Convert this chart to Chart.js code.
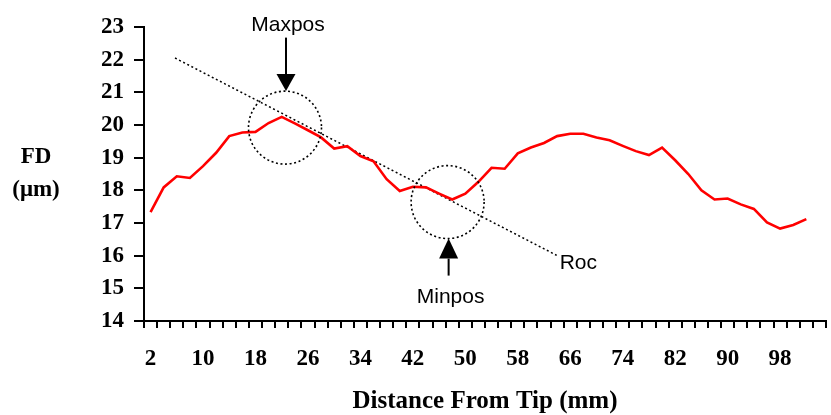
<!DOCTYPE html>
<html lang="en">
<head>
<meta charset="UTF-8">
<title>FD vs Distance From Tip</title>
<script src="https://cdn.jsdelivr.net/npm/chart.js"></script>
<style>
    html, body { margin: 0; padding: 0; background: #fff; }
    .chart-box { width: 831px; height: 415px; }
</style>
</head>
<body>
<div class="chart-box"><canvas id="fdChart" width="831" height="415"></canvas></div>

<script>
// distance from tip (mm) and fibre diameter FD (um)
const distances = [2, 4, 6, 8, 10, 12, 14, 16, 18, 20, 22, 24, 26, 28, 30, 32, 34, 36, 38, 40,
                   42, 44, 46, 48, 50, 52, 54, 56, 58, 60, 62, 64, 66, 68, 70, 72, 74, 76, 78, 80,
                   82, 84, 86, 88, 90, 92, 94, 96, 98, 100, 102];
const fdValues = [17.33, 18.09, 18.43, 18.38, 18.74, 19.15, 19.66, 19.77, 19.79, 20.06,
                  20.25, 20.05, 19.84, 19.62, 19.28, 19.35, 19.05, 18.89, 18.34, 17.98,
                  18.11, 18.09, 17.90, 17.72, 17.90, 18.26, 18.69, 18.66, 19.13, 19.31,
                  19.45, 19.66, 19.73, 19.73, 19.62, 19.53, 19.36, 19.20, 19.08, 19.31,
                  18.92, 18.50, 18.00, 17.72, 17.75, 17.57, 17.43, 17.02, 16.83, 16.94,
                  17.12];
const tickLabels = [2, 10, 18, 26, 34, 42, 50, 58, 66, 74, 82, 90, 98];
const categoryEdges = [1, 3, 5, 7, 9, 11, 13, 15, 17, 19, 21, 23, 25, 27, 29, 31, 33, 35, 37, 39,
                       41, 43, 45, 47, 49, 51, 53, 55, 57, 59, 61, 63, 65, 67, 69, 71, 73, 75, 77, 79,
                       81, 83, 85, 87, 89, 91, 93, 95, 97, 99, 101, 103, 105];

// dotted "Roc" trend line (start / end)
const rocX = [5.73, 63.93];
const rocY = [22.05, 16.01];

// circled points with arrows
const markerNames = ['Maxpos', 'Minpos'];
const markerX = [22.5, 47.3];
const markerY = [19.92, 17.64];

const serif = '"Liberation Serif", "Times New Roman", serif';
const sans = '"Liberation Sans", Arial, sans-serif';

// circles, arrows, labels and the left-hand FD (um) title
const annotations = {
    id: 'annotations',
    afterDatasetsDraw(chart) {
        const { ctx, chartArea, scales: { x, y } } = chart;
        ctx.save();
        ctx.strokeStyle = '#000';
        ctx.fillStyle = '#000';
        ctx.font = '21px ' + sans;
        ctx.textAlign = 'center';
        ctx.textBaseline = 'middle';

        markerNames.forEach((name, i) => {
            const cx = x.getPixelForValue(markerX[i]);
            const cy = y.getPixelForValue(markerY[i]);
            const r = 36.5;
            const dir = i === 0 ? -1 : 1;          // Maxpos arrow comes from above
            const tip = cy + dir * r;
            const head = i === 0 ? 17 : 20;
            const shaft = i === 0 ? 53.5 : 37;
            const textOff = i === 0 ? 65.5 : 59;

            ctx.setLineDash([2, 2.6]);
            ctx.lineWidth = 1.6;
            ctx.beginPath();
            ctx.arc(cx, cy, r, 0, Math.PI * 2);
            ctx.stroke();

            ctx.setLineDash([]);
            ctx.lineWidth = 2;
            ctx.beginPath();
            ctx.moveTo(cx + 1, tip + dir * shaft);
            ctx.lineTo(cx + 1, tip + dir * head);
            ctx.stroke();
            ctx.beginPath();
            ctx.moveTo(cx + 1, tip);
            ctx.lineTo(cx + 1 - 9.5, tip + dir * head);
            ctx.lineTo(cx + 1 + 9.5, tip + dir * head);
            ctx.closePath();
            ctx.fill();

            ctx.fillText(name, cx + 3, tip + dir * textOff);
        });

        const ex = x.getPixelForValue(rocX[1]);
        const ey = y.getPixelForValue(rocY[1]);
        ctx.textAlign = 'left';
        ctx.fillText('Roc', ex + 3, ey + 7.5);

        const mid = (chartArea.top + chartArea.bottom) / 2;
        ctx.font = 'bold 23px ' + serif;
        ctx.textAlign = 'center';
        ctx.fillText('FD', chartArea.left - 108, mid - 17);
        ctx.fillText('(\u03bcm)', chartArea.left - 108, mid + 16.5);
        ctx.restore();
    }
};

new Chart(document.getElementById('fdChart'), {
    type: 'line',
    data: {
        datasets: [{
            label: 'FD',
            data: distances.map((d, i) => ({ x: d, y: fdValues[i] })),
            borderColor: '#ff0000',
            borderWidth: 2.6,
            pointRadius: 0,
            tension: 0,
            fill: false
        }, {
            label: 'Roc',
            data: rocX.map((d, i) => ({ x: d, y: rocY[i] })),
            borderColor: '#000',
            borderWidth: 1.5,
            borderDash: [2, 2.6],
            pointRadius: 0,
            fill: false
        }]
    },
    options: {
        responsive: false,
        animation: false,
        layout: { padding: { top: 27, right: 5, left: 0, bottom: 0 } },
        plugins: { legend: { display: false }, tooltip: { enabled: false } },
        scales: {
            x: {
                type: 'linear',
                min: 1,
                max: 105,
                afterBuildTicks: s => {
                    const vals = categoryEdges.concat(tickLabels).sort((a, b) => a - b);
                    s.ticks = vals.map(v => ({ value: v }));
                },
                // fixed height, and no extra right padding from the tick padding
                afterFit: s => { s.height = 94; s.paddingRight = 0; },
                ticks: {
                    autoSkip: false,
                    maxRotation: 0,
                    padding: 17,
                    color: '#000',
                    font: { family: serif, size: 23, weight: 'bold' },
                    callback: v => tickLabels.includes(v) ? String(v) : ''
                },
                grid: {
                    drawOnChartArea: false,
                    tickLength: 7,
                    lineWidth: 2,
                    color: c => (c.tick && c.tick.value % 2 === 1) ? '#000' : 'rgba(0,0,0,0)'
                },
                border: { color: '#000', width: 2 },
                title: {
                    display: true,
                    text: 'Distance From Tip (mm)',
                    color: '#000',
                    font: { family: serif, size: 25, weight: 'bold', lineHeight: 1 },
                    padding: { top: 0, bottom: 1 }
                }
            },
            y: {
                min: 14,
                max: 23,
                afterFit: s => { s.width = 144; },
                ticks: {
                    stepSize: 1,
                    padding: 10,
                    color: '#000',
                    font: { family: serif, size: 23, weight: 'bold' }
                },
                grid: { drawOnChartArea: false, color: '#000', lineWidth: 2, tickLength: 10 },
                border: { color: '#000', width: 2 }
            }
        }
    },
    plugins: [annotations]
});
</script>
</body>
</html>
